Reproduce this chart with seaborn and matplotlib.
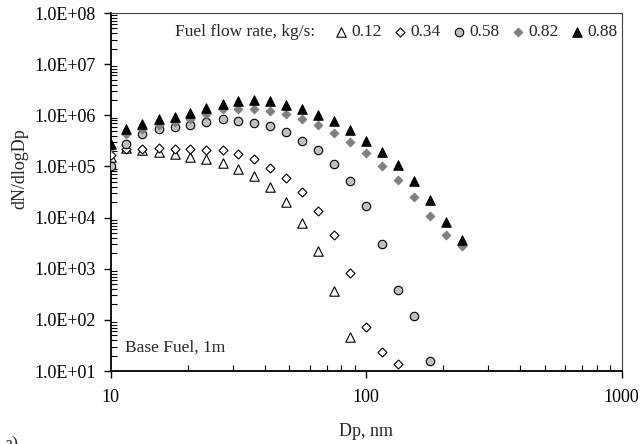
import numpy as np
import pandas as pd
import matplotlib
matplotlib.use("Agg")
import matplotlib.pyplot as plt
from matplotlib.ticker import FixedLocator, LogLocator, FuncFormatter, NullFormatter
import seaborn as sns

# Particle diameter bins, nm
dp_nm = [10.0, 11.5, 13.3, 15.4, 17.8, 20.5, 23.7, 27.4, 31.6, 36.5, 42.2, 48.7,
         56.2, 64.9, 75.0, 86.6, 100.0, 115.5, 133.4, 154.0, 177.8, 205.4, 237.1]

# dN/dlogDp for each fuel flow rate
flow_012 = [1.5e5, 2.3e5, 2.1e5, 1.95e5, 1.73e5, 1.55e5, 1.37e5, 1.17e5, 8.9e4,
            6.5e4, 4.0e4, 2.0e4, 7.9e3, 2.2e3, 3.7e2, 47]
flow_034 = [1.66e5, 2.2e5, 2.2e5, 2.3e5, 2.2e5, 2.2e5, 2.1e5, 2.1e5, 1.73e5,
            1.38e5, 9.5e4, 6.0e4, 3.1e4, 1.35e4, 4.6e3, 8.1e2, 72, 24, 14]
flow_058 = [1.0e5, 2.8e5, 4.3e5, 5.3e5, 5.9e5, 6.6e5, 7.4e5, 8.3e5, 7.8e5,
            7.1e5, 6.1e5, 4.8e5, 3.2e5, 2.1e5, 1.1e5, 5.2e4, 1.7e4, 3.1e3,
            380, 118, 16]
flow_082 = [2.4e5, 4.3e5, 5.5e5, 6.4e5, 7.4e5, 8.5e5, 1.05e6, 1.3e6, 1.3e6,
            1.3e6, 1.2e6, 1.05e6, 8.5e5, 6.4e5, 4.6e5, 3.0e5, 1.8e5, 1.0e5,
            5.4e4, 2.5e4, 1.07e4, 4.6e3, 2.8e3]
flow_088 = [2.8e5, 5.3e5, 6.9e5, 8.3e5, 9.1e5, 1.1e6, 1.4e6, 1.7e6, 1.9e6,
            2.0e6, 1.9e6, 1.6e6, 1.32e6, 1.0e6, 7.7e5, 5.2e5, 3.2e5, 1.9e5,
            1.07e5, 5.2e4, 2.2e4, 8.3e3, 3.7e3]

series_labels = ["0.12", "0.34", "0.58", "0.82", "0.88"]
series_values = [flow_012, flow_034, flow_058, flow_082, flow_088]

x_ticks = [10, 100, 1000]
y_ticks = [1e1, 1e2, 1e3, 1e4, 1e5, 1e6, 1e7, 1e8]

# marker, face colour, edge colour, size
styles = [
    ("^", "white", "black", 46),
    ("D", "white", "black", 21),
    ("o", "#bfbfbf", "black", 37),
    ("D", "#808080", "#808080", 19),
    ("^", "black", "black", 46),
]

sns.set_theme(style="white")
plt.rcParams["font.family"] = ["Liberation Serif", "DejaVu Serif"]

fig = plt.figure(figsize=(6.4, 4.44), dpi=100)
ax = fig.add_axes([0.173, 0.1644, 0.7984, 0.8063])

frames = []
for lab, vals in zip(series_labels, series_values):
    frames.append(pd.DataFrame({"Dp": dp_nm[:len(vals)], "dN": vals, "rate": lab}))
df = pd.concat(frames, ignore_index=True)

for k, (lab, (mk, fc, ec, s)) in enumerate(zip(series_labels, styles)):
    sub = df[df["rate"] == lab]
    sns.scatterplot(data=sub, x="Dp", y="dN", marker=mk, color=fc, edgecolor=ec,
                    linewidth=0.8, s=s, ax=ax, label=lab, zorder=3 + k)

ax.set_xscale("log")
ax.set_yscale("log")
ax.set_xlim(10, 1000)
ax.set_ylim(1e1, 1e8)

ax.xaxis.set_major_locator(FixedLocator(x_ticks))
ax.xaxis.set_major_formatter(FuncFormatter(lambda v, p: f"{v:g}"))
ax.xaxis.set_minor_locator(LogLocator(base=10, subs=np.arange(2, 10)))
ax.xaxis.set_minor_formatter(NullFormatter())
ax.yaxis.set_major_locator(FixedLocator(y_ticks))
ax.yaxis.set_major_formatter(FuncFormatter(lambda v, p: f"{v:.1E}"))
ax.yaxis.set_minor_locator(LogLocator(base=10, subs=np.arange(2, 10)))
ax.yaxis.set_minor_formatter(NullFormatter())

ax.tick_params(axis="both", which="major", direction="out", length=5, width=1,
               colors="black", labelsize=13)
ax.tick_params(axis="x", which="major", pad=8)
ax.tick_params(axis="y", which="major", pad=6)
ax.tick_params(axis="both", which="minor", direction="in", length=4, width=0.8,
               colors="black")
ax.tick_params(bottom=True, left=True, which="both")

for side in ["left", "bottom"]:
    ax.spines[side].set_color("black")
    ax.spines[side].set_linewidth(1.3)
for side in ["top", "right"]:
    ax.spines[side].set_color("#404040")
    ax.spines[side].set_linewidth(0.8)

ax.set_xlabel("Dp, nm", fontsize=13, labelpad=12)
ax.set_ylabel("dN/dlogDp", fontsize=13)
ax.yaxis.set_label_coords(-0.162, 0.564)
ax.grid(False)

leg = ax.legend(loc="center right", bbox_to_anchor=(0.991, 0.947), ncol=5,
                frameon=False, fontsize=12.5, handlelength=0.6, handletextpad=0.3,
                columnspacing=0.75, borderpad=0, borderaxespad=0)
ax.text(0.40, 0.947, "Fuel flow rate, kg/s:", transform=ax.transAxes,
        ha="right", va="center", fontsize=12.5)
ax.text(0.028, 0.054, "Base Fuel, 1m", transform=ax.transAxes,
        ha="left", va="baseline", fontsize=12.5)
fig.text(4 / 640, 1 - 436 / 444, "a)", ha="left", va="top", fontsize=13)

fig.savefig("out.png", dpi=100)
